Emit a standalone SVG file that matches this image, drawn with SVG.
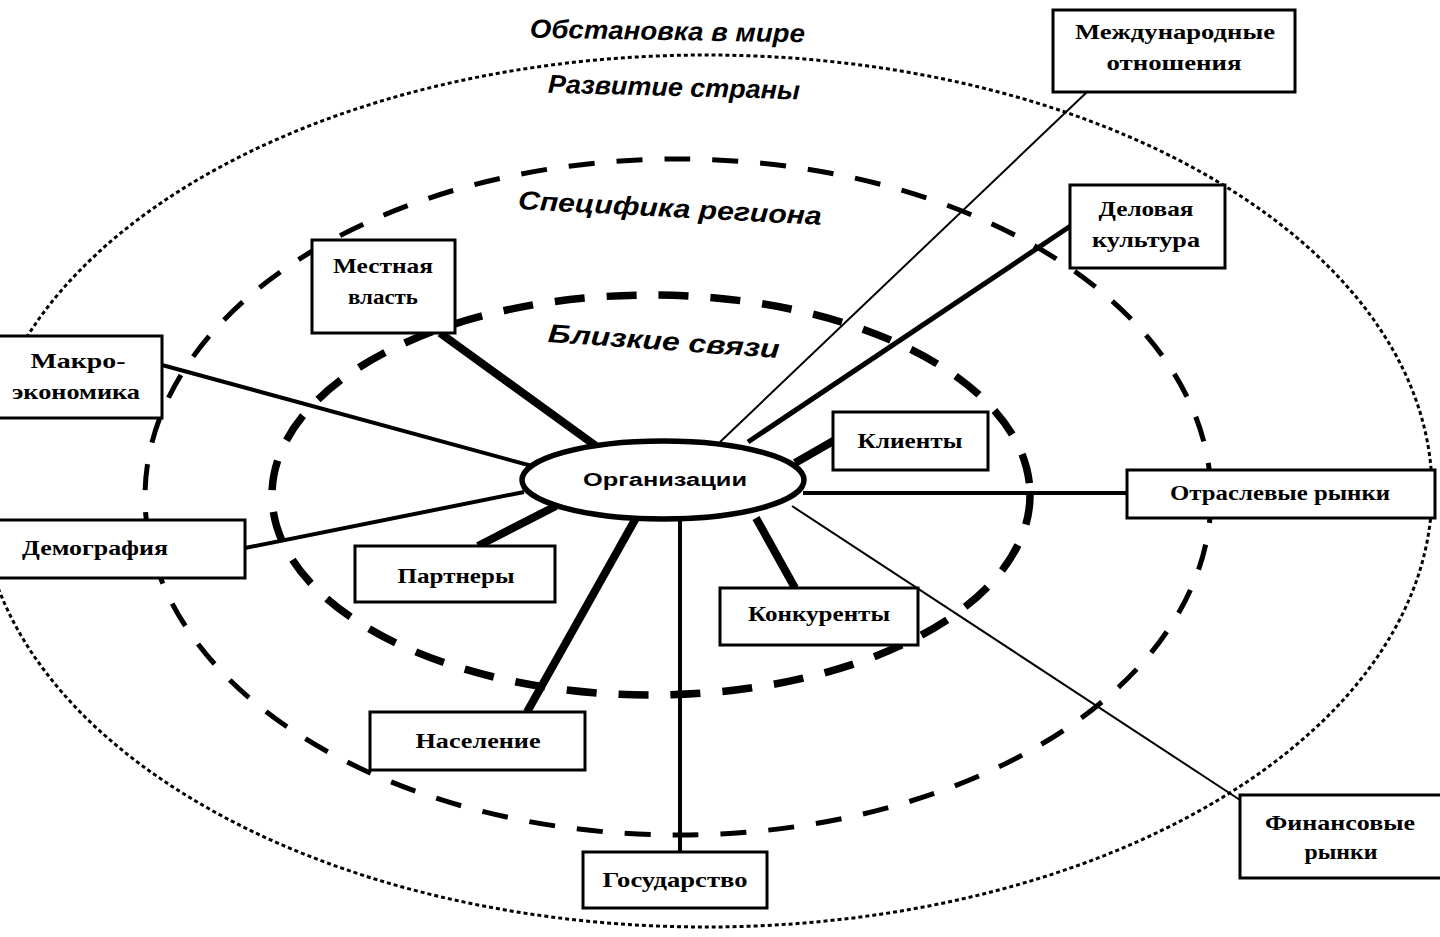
<svg xmlns="http://www.w3.org/2000/svg" width="1440" height="937" viewBox="0 0 1440 937">
  <style>
    .bg { fill: #ffffff; }
    .ring-outer { fill: none; stroke: #000; stroke-width: 3; stroke-dasharray: 4 3; }
    .ring-mid { fill: none; stroke: #000; stroke-width: 5; stroke-dasharray: 26 22; }
    .ring-inner { fill: none; stroke: #000; stroke-width: 7.5; stroke-dasharray: 30 22; }
    .ring-label { font-family: "Liberation Sans", Arial, sans-serif; font-weight: bold; font-style: italic; font-size: 26px; fill: #000; }
    .box rect { fill: #fff; stroke: #000; stroke-width: 3; }
    .box text { font-family: "Liberation Serif", "Times New Roman", serif; font-weight: bold; font-size: 22px; fill: #000; text-anchor: middle; }
    .center ellipse { fill: #fff; stroke: #000; stroke-width: 5.5; }
    .center text { font-family: "Liberation Sans", Arial, sans-serif; font-weight: bold; font-size: 18px; fill: #000; text-anchor: middle; }
    .links line { stroke: #000; stroke-linecap: butt; }
    .thin { stroke-width: 2; }
    .mid { stroke-width: 4; }
    .heavy { stroke-width: 5; }
    .thick { stroke-width: 8; }
  </style>

  <rect class="bg" x="0" y="0" width="1440" height="937"/>

  <!-- environment rings -->
  <g id="rings">
    <ellipse class="ring-outer" cx="706" cy="491" rx="726" ry="436"/>
    <ellipse class="ring-mid" cx="678" cy="497" rx="533" ry="338"/>
    <ellipse class="ring-inner" cx="651" cy="495" rx="379" ry="200"/>
  </g>

  <!-- ring captions -->
  <g id="ring-labels">
    <text class="ring-label" x="530" y="40" textLength="275" lengthAdjust="spacingAndGlyphs" transform="rotate(1 668 30)">Обстановка в мире</text>
    <text class="ring-label" x="548" y="96" textLength="252" lengthAdjust="spacingAndGlyphs" transform="rotate(1.5 674 88)">Развитие страны</text>
    <text class="ring-label" x="518" y="217" textLength="304" lengthAdjust="spacingAndGlyphs" transform="rotate(3 670 207)">Специфика региона</text>
    <text class="ring-label" x="548" y="350" textLength="232" lengthAdjust="spacingAndGlyphs" transform="rotate(4 664 340)">Близкие связи</text>
  </g>

  <!-- connectors from the organisation to its surroundings -->
  <g id="links" class="links">
    <line class="thin" x1="720" y1="442" x2="1087" y2="92"/>
    <line class="heavy" x1="748" y1="442" x2="1072" y2="225"/>
    <line class="thick" x1="440" y1="333" x2="596" y2="446"/>
    <line class="mid" x1="162" y1="365" x2="532" y2="466"/>
    <line class="mid" x1="245" y1="548" x2="524" y2="492"/>
    <line class="thick" x1="478" y1="546" x2="556" y2="506"/>
    <line class="thick" x1="527" y1="712" x2="636" y2="518"/>
    <line class="mid" x1="680" y1="852" x2="680" y2="518"/>
    <line class="thick" x1="756" y1="518" x2="795" y2="588"/>
    <line class="thin" x1="792" y1="506" x2="1240" y2="800"/>
    <line class="mid" x1="803" y1="493" x2="1128" y2="493"/>
    <line class="thick" x1="795" y1="463" x2="835" y2="440"/>
  </g>

  <g id="node-intl" class="box">
    <rect x="1053" y="10" width="242" height="82"/>
    <text x="1175" y="39" textLength="200" lengthAdjust="spacingAndGlyphs">Международные</text>
    <text x="1174" y="70" textLength="135" lengthAdjust="spacingAndGlyphs">отношения</text>
  </g>

  <g id="node-business" class="box">
    <rect x="1070" y="185" width="155" height="83"/>
    <text x="1146" y="216" textLength="95" lengthAdjust="spacingAndGlyphs">Деловая</text>
    <text x="1146" y="247" textLength="108" lengthAdjust="spacingAndGlyphs">культура</text>
  </g>

  <g id="node-local" class="box">
    <rect x="312" y="240" width="143" height="93"/>
    <text x="383" y="273" textLength="100" lengthAdjust="spacingAndGlyphs">Местная</text>
    <text x="383" y="304" textLength="70" lengthAdjust="spacingAndGlyphs">власть</text>
  </g>

  <g id="node-macro" class="box">
    <rect x="-3" y="336" width="165" height="82"/>
    <text x="78" y="368" textLength="95" lengthAdjust="spacingAndGlyphs">Макро-</text>
    <text x="76" y="399" textLength="128" lengthAdjust="spacingAndGlyphs">экономика</text>
  </g>

  <g id="node-demo" class="box">
    <rect x="-3" y="520" width="248" height="58"/>
    <text x="95" y="555" textLength="146" lengthAdjust="spacingAndGlyphs">Демография</text>
  </g>

  <g id="node-clients" class="box">
    <rect x="833" y="412" width="155" height="58"/>
    <text x="910" y="448" textLength="105" lengthAdjust="spacingAndGlyphs">Клиенты</text>
  </g>

  <g id="node-industry" class="box">
    <rect x="1127" y="470" width="308" height="48"/>
    <text x="1280" y="500" textLength="220" lengthAdjust="spacingAndGlyphs">Отраслевые рынки</text>
  </g>

  <g id="node-partners" class="box">
    <rect x="355" y="546" width="200" height="56"/>
    <text x="456" y="583" textLength="117" lengthAdjust="spacingAndGlyphs">Партнеры</text>
  </g>

  <g id="node-rivals" class="box">
    <rect x="720" y="588" width="198" height="57"/>
    <text x="819" y="621" textLength="142" lengthAdjust="spacingAndGlyphs">Конкуренты</text>
  </g>

  <g id="node-population" class="box">
    <rect x="370" y="712" width="215" height="58"/>
    <text x="478" y="748" textLength="125" lengthAdjust="spacingAndGlyphs">Население</text>
  </g>

  <g id="node-state" class="box">
    <rect x="583" y="852" width="184" height="56"/>
    <text x="675" y="887" textLength="145" lengthAdjust="spacingAndGlyphs">Государство</text>
  </g>

  <g id="node-finance" class="box">
    <rect x="1240" y="795" width="203" height="83"/>
    <text x="1340" y="830" textLength="150" lengthAdjust="spacingAndGlyphs">Финансовые</text>
    <text x="1341" y="859" textLength="73" lengthAdjust="spacingAndGlyphs">рынки</text>
  </g>

  <g id="node-org" class="center">
    <ellipse cx="663" cy="480" rx="141" ry="39"/>
    <text x="665" y="486" textLength="164" lengthAdjust="spacingAndGlyphs">Организации</text>
  </g>
</svg>
